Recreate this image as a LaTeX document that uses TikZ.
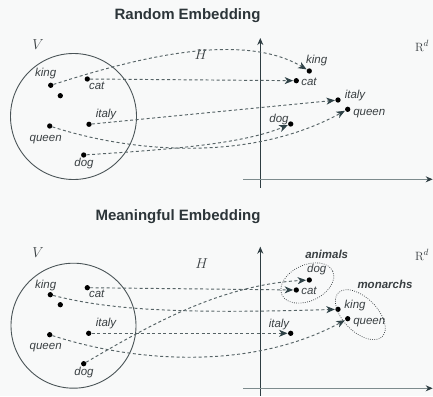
\documentclass[tikz,border=0pt]{standalone}
\usepackage[no-math]{fontspec}
\setmainfont{Liberation Sans}
\usetikzlibrary{arrows.meta}

\definecolor{bgc}{HTML}{F8F9F9}
\definecolor{linec}{HTML}{566366}
\definecolor{tipc}{HTML}{2F4247}
\definecolor{axisy}{HTML}{2E3D42}
\definecolor{axisx}{HTML}{7D8B8D}
\definecolor{txtc}{HTML}{3A4043}
\definecolor{circc}{HTML}{4A5457}
\definecolor{titlec}{HTML}{2C3539}

\tikzset{
  dot/.style={circle, fill=black, inner sep=0pt, minimum size=5.3pt},
  word/.style={font=\fontsize{11.5}{12}\selectfont\itshape, text=txtc, inner sep=0pt},
  group/.style={font=\fontsize{11.5}{12}\selectfont\bfseries\itshape, text=txtc, inner sep=0pt},
  ttl/.style={font=\fontsize{15}{16}\selectfont\bfseries, text=titlec, inner sep=0pt},
  mathlbl/.style={font=\fontsize{14}{15}\selectfont, text=txtc, inner sep=0pt},
  embed/.style={draw=linec, line width=0.95pt, dash pattern=on 3pt off 2.5pt,
    -{Stealth[length=8.5pt,width=7pt,inset=2.5pt,color=tipc]}, shorten >=0.3pt},
  space/.style={draw=circc, line width=0.9pt},
  yaxis/.style={draw=axisy, line width=1pt, -{Stealth[length=7pt,width=6pt,color=axisy]}},
  xaxis/.style={draw=axisx, line width=1.4pt, -{Stealth[length=7pt,width=6pt,color=axisy]}},
  cluster/.style={draw=txtc, line width=0.7pt, dash pattern=on 0.8pt off 1.4pt},
}

\begin{document}
\begin{tikzpicture}[x=1pt, y=-1pt]
\fill[bgc] (0,0) rectangle (433,396);
\useasboundingbox (0,0) rectangle (433,396);

% ---------------- upper panel: random embedding ----------------
\node[ttl] (t1) at (187.5,16) {Random Embedding};
\node[mathlbl] (V1) at (38,45) {$V$};
\node[mathlbl] (H1) at (201,55) {$H$};
\node[mathlbl, font=\fontsize{13}{14}\selectfont] (R1) at (422,46) {$\mathrm{R}^d$};

\node[space, circle, minimum size=126pt, inner sep=0pt] (vocab1) at (73.5,116.5) {};

\node[dot] (vking1)  at (50.7,85.3) {};
\node[dot] (vextra1) at (60.3,95.7) {};
\node[dot] (vcat1)   at (87.3,79) {};
\node[dot] (vitaly1) at (89,124.3) {};
\node[dot] (vqueen1) at (49.7,126) {};
\node[dot] (vdog1)   at (83.7,155) {};
\node[word] at (45.7,74)    {king};
\node[word] at (96.7,85.5)  {cat};
\node[word] at (106,115)    {italy};
\node[word] at (45.7,139.5) {queen};
\node[word] at (84,164)     {dog};

\coordinate (ytop1) at (260.3,38);
\coordinate (ybot1) at (260.3,188);
\coordinate (xl1) at (243,179.3);
\coordinate (xr1) at (432.7,179.3);
\draw[yaxis] (ybot1) -- (ytop1);
\draw[xaxis] (xl1) -- (xr1);

\node[dot] (rking1)  at (309.3,71) {};
\node[dot] (rcat1)   at (296.3,80.7) {};
\node[dot] (ritaly1) at (338,100) {};
\node[dot] (rqueen1) at (347.7,109.3) {};
\node[dot] (rdog1)   at (290.7,124) {};
\node[word] at (316.7,61)    {king};
\node[word] at (309,81.5)    {cat};
\node[word] at (355,95.7)    {italy};
\node[word] at (369.3,114)   {queen};
\node[word] at (279,119.3)   {dog};

\draw[embed] (vking1) .. controls (130,60) and (240,30) .. (rking1);
\draw[embed] (vcat1) -- (rcat1);
\draw[embed] (vitaly1) -- (ritaly1);
\draw[embed] (vqueen1) .. controls (140,155) and (255,160) .. (rqueen1);
\draw[embed] (vdog1) .. controls (160,150) and (240,145) .. (rdog1);

% ---------------- lower panel: meaningful embedding ----------------
\node[ttl] (t2) at (178,217) {Meaningful Embedding};
\node[mathlbl] (V2) at (38,253) {$V$};
\node[mathlbl] (H2) at (201.7,263.3) {$H$};
\node[mathlbl, font=\fontsize{13}{14}\selectfont] (R2) at (422,255) {$\mathrm{R}^d$};

\node[space, circle, minimum size=125pt, inner sep=0pt] (vocab2) at (73.5,325.7) {};

\node[dot] (vking2)  at (50.3,294.7) {};
\node[dot] (vextra2) at (60.3,304.7) {};
\node[dot] (vcat2)   at (87.3,287.7) {};
\node[dot] (vitaly2) at (88.7,333.3) {};
\node[dot] (vqueen2) at (49.7,334.7) {};
\node[dot] (vdog2)   at (83.7,363.7) {};
\node[word] at (45.7,286)   {king};
\node[word] at (96.7,293.5) {cat};
\node[word] at (106,324)    {italy};
\node[word] at (45.7,348)   {queen};
\node[word] at (84,372.7)   {dog};

\coordinate (ytop2) at (260.3,246.7);
\coordinate (ybot2) at (260.3,396);
\coordinate (xl2) at (243,388.3);
\coordinate (xr2) at (432.7,388.3);
\draw[yaxis] (ybot2) -- (ytop2);
\draw[xaxis] (xl2) -- (xr2);

\node[dot] (rdog2)   at (309.3,280) {};
\node[dot] (rcat2)   at (296.3,290) {};
\node[dot] (rking2)  at (338,309.3) {};
\node[dot] (rqueen2) at (347.7,318.7) {};
\node[dot] (ritaly2) at (290.7,333.3) {};
\node[word] at (316.7,269.3) {dog};
\node[word] at (309,290.5)   {cat};
\node[word] at (355,305.3)   {king};
\node[word] at (369.3,322.7) {queen};
\node[word] at (279,325)     {italy};

\node[group] (animals)  at (326.7,254.3) {animals};
\node[group] (monarchs) at (385,284)     {monarchs};
\coordinate (animc) at (307.3,283);
\coordinate (monc) at (360.3,314.7);
\draw[cluster, rotate around={25:(animc)}] (animc) ellipse [x radius=28pt, y radius=18pt];
\draw[cluster, rotate around={-45:(monc)}] (monc) ellipse [x radius=31pt, y radius=17pt];

\draw[embed] (vcat2) -- (rcat2);
\draw[embed] (vking2) .. controls (110,310) and (180,314) .. (rking2);
\draw[embed] (vdog2) .. controls (150,325) and (220,285) .. (rdog2);
\draw[embed] (vitaly2) -- (ritaly2);
\draw[embed] (vqueen2) .. controls (140,364) and (255,369) .. (rqueen2);
\end{tikzpicture}
\end{document}
